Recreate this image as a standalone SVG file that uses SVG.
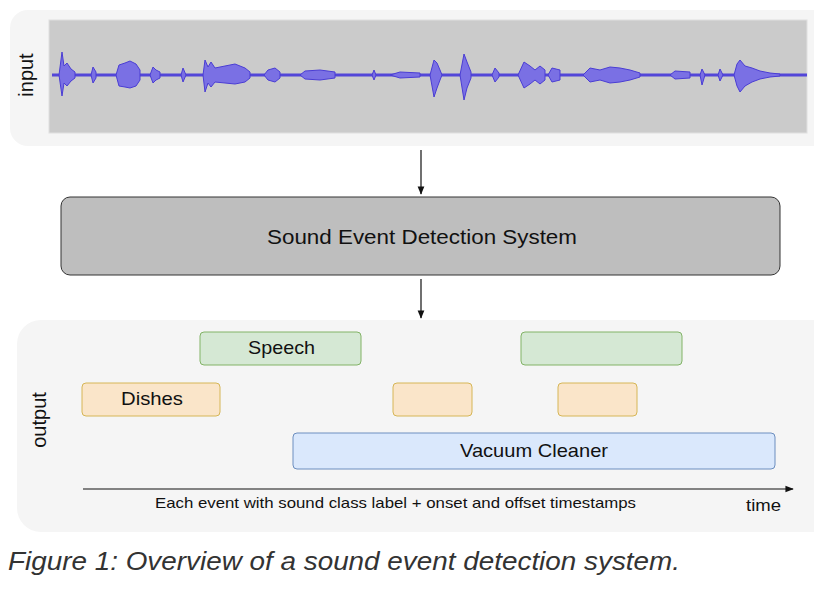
<svg xmlns="http://www.w3.org/2000/svg" width="814" height="598" viewBox="0 0 814 598">
<defs>
<style>
.t{font-family:"Liberation Sans",Arial,sans-serif;fill:#111}
.w{fill:#7a70e4;stroke:#4a3dd4;stroke-width:1}
</style>
<marker id="ah" viewBox="0 0 10 10" refX="9" refY="5" markerWidth="7" markerHeight="7" orient="auto"><path d="M0,1 L10,5 L0,9 Z" fill="#111"/></marker>
</defs>
<rect width="814" height="598" fill="#fff"/>
<g id="input">
<rect x="10" y="10" width="820" height="136" rx="18" fill="#f5f5f5"/>
<rect x="49" y="20" width="758" height="113" fill="#cbcbcb" stroke="#e0e0e0"/>
<line x1="52" y1="75" x2="807" y2="75" stroke="#5346d8" stroke-width="3"/>
<path class="w" d="M59 75 L62 52 L64 66 L67 63 L71 69 L75 72 L75 78 L71 81 L67 86 L64 83 L62 96 Z
M91 75 L93 67 L96 72 L96 78 L93 83 Z
M116 75 L119 65 L125 63 L130 61 L136 64 L140 70 L140 80 L136 86 L130 88 L125 87 L119 86 Z
M150 75 L153 67 L156 70 L160 72 L160 78 L156 80 L153 83 Z
M181 75 L183 68 L186 75 L183 82 Z
M203 75 L205 60 L208 67 L211 62 L215 68 L225 66 L235 64 L245 68 L250 72 L250 78 L245 82 L235 84 L225 83 L215 82 L211 87 L208 83 L205 92 Z
M264 75 L268 70 L275 68 L280 72 L280 78 L275 82 L268 80 Z
M300 75 L305 71 L320 70 L335 72 L335 78 L320 80 L305 79 Z
M372 75 L374 70 L376 75 L374 80 Z
M390 75 L400 72 L420 73 L420 77 L400 78 Z
M430 75 L434 60 L437 63 L440 70 L442 75 L440 80 L437 88 L434 97 Z
M460 75 L464 54 L467 62 L471 72 L471 78 L467 88 L464 100 Z
M492 75 L495 68 L499 73 L499 77 L495 82 Z
M518 75 L524 62 L530 66 L535 70 L540 66 L545 70 L545 80 L540 84 L535 80 L530 84 L524 88 Z
M548 75 L552 68 L560 70 L560 80 L552 82 Z
M583 75 L590 68 L600 70 L610 67 L620 68 L630 70 L640 73 L640 77 L630 80 L620 82 L610 83 L600 80 L590 82 Z
M670 75 L675 71 L690 72 L690 78 L675 79 Z
M700 75 L702 69 L705 75 L702 85 Z
M718 75 L720 69 L723 75 L720 81 Z
M734 75 L737 64 L740 60 L745 66 L752 68 L760 71 L770 73 L780 74 L780 76 L770 77 L760 79 L752 82 L745 86 L740 92 L737 86 Z"/>
<text class="t" x="0" y="0" font-size="20" text-anchor="middle" transform="translate(33,75) rotate(-90)">input</text>
</g>
<g id="system">
<rect x="61" y="197" width="719" height="78" rx="9" fill="#bebebe" stroke="#333" stroke-width="1"/>
<text class="t" x="267" y="244" font-size="21" textLength="310" lengthAdjust="spacingAndGlyphs">Sound Event Detection System</text>
</g>
<g id="output">
<rect x="17" y="320" width="820" height="212" rx="24" fill="#f5f5f5"/>
<text class="t" x="0" y="0" font-size="20" text-anchor="middle" transform="translate(46,420) rotate(-90)">output</text>
<g id="speech1"><rect x="200" y="332" width="161" height="33" rx="4" fill="#d5e8d4" stroke="#82b366"/><text class="t" x="248" y="354" font-size="19" textLength="67" lengthAdjust="spacingAndGlyphs">Speech</text></g>
<g id="speech2"><rect x="521" y="332" width="161" height="33" rx="4" fill="#d5e8d4" stroke="#82b366"/></g>
<g id="dishes1"><rect x="82" y="383" width="138" height="33" rx="4" fill="#fae5c9" stroke="#d6b656"/><text class="t" x="121" y="405" font-size="19" textLength="62" lengthAdjust="spacingAndGlyphs">Dishes</text></g>
<g id="dishes2"><rect x="393" y="383" width="79" height="33" rx="4" fill="#fae5c9" stroke="#d6b656"/></g>
<g id="dishes3"><rect x="558" y="383" width="79" height="33" rx="4" fill="#fae5c9" stroke="#d6b656"/></g>
<g id="vacuum"><rect x="293" y="433" width="482" height="36" rx="4" fill="#dae8fc" stroke="#6c8ebf"/><text class="t" x="460" y="457" font-size="19" textLength="148" lengthAdjust="spacingAndGlyphs">Vacuum Cleaner</text></g>
<text class="t" x="155" y="508" font-size="15" textLength="481" lengthAdjust="spacingAndGlyphs">Each event with sound class label + onset and offset timestamps</text>
<text class="t" x="746" y="511" font-size="16" textLength="35" lengthAdjust="spacingAndGlyphs">time</text>
</g>
<g id="connectors" stroke="#111" stroke-width="1.2" fill="none">
<line x1="421" y1="150" x2="421" y2="194" marker-end="url(#ah)"/>
<line x1="421" y1="279" x2="421" y2="318" marker-end="url(#ah)"/>
<line x1="83" y1="489" x2="793" y2="489" marker-end="url(#ah)"/>
</g>
<text x="8" y="570" font-family="Liberation Sans,Arial,sans-serif" font-style="italic" font-size="25" fill="#333" textLength="672" lengthAdjust="spacingAndGlyphs">Figure 1: Overview of a sound event detection system.</text>
</svg>
